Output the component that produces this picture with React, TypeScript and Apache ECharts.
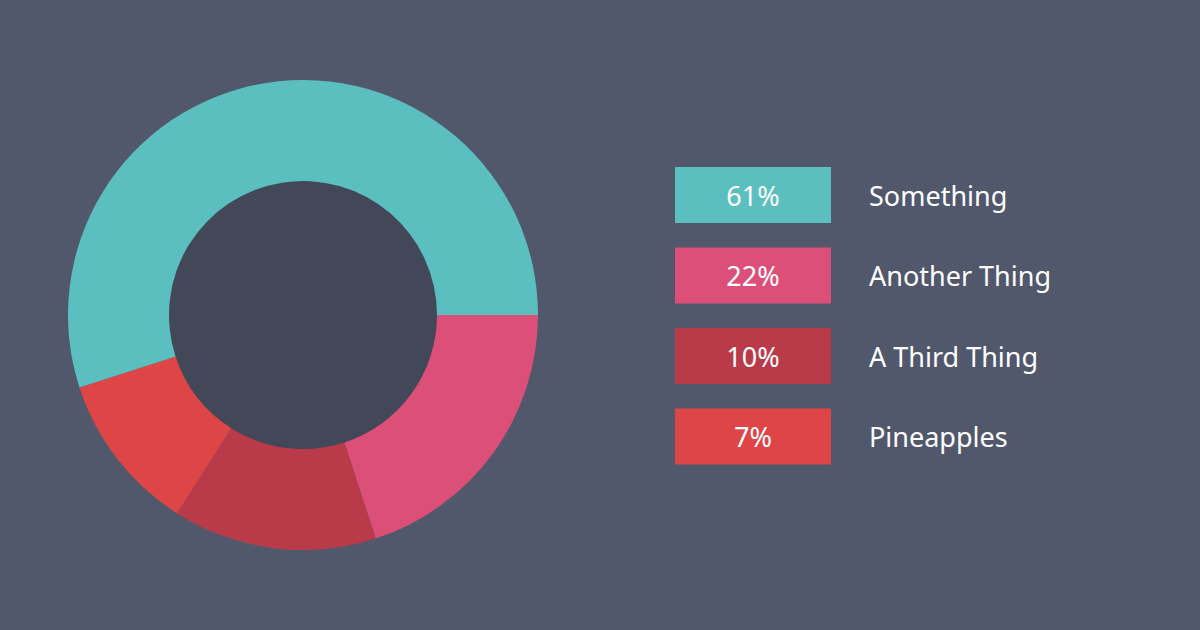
import React, { useEffect, useRef } from "react";
import * as echarts from "echarts";

const categories = ["Something", "Another Thing", "A Third Thing", "Pineapples"];
const sliceValues = [55, 20, 14, 11];
const legendLabels = ["61%", "22%", "10%", "7%"];
const colors = ["#5bbfc0", "#dc4f79", "#b93b4a", "#dd4547"];

const BG = "#52586c";
const HOLE = "#434859";

export default function App() {
  const ref = useRef<HTMLDivElement>(null);
  useEffect(() => {
    document.body.style.margin = "0";
    const chart = echarts.init(ref.current!, null, { renderer: "svg" });
    // clockwise from 3 o'clock: Another, Third, Pineapples, then Something
    const order = [1, 2, 3, 0];
    const data = order.map((i) => ({
      name: categories[i],
      value: sliceValues[i],
      itemStyle: { color: colors[i] },
    }));
    const graphics: any[] = [
      {
        type: "circle",
        shape: { cx: 303, cy: 315, r: 135 },
        style: { fill: HOLE },
        z: 0,
      },
    ];
    categories.forEach((c, i) => {
      const y = 167 + i * 80.5;
      graphics.push({
        type: "rect",
        shape: { x: 675, y, width: 156, height: 56 },
        style: { fill: colors[i] },
      });
      graphics.push({
        type: "text",
        x: 753,
        y: y + 28,
        style: {
          text: legendLabels[i],
          fill: "#ffffff",
          font: '27px "Noto Sans"',
          align: "center",
          verticalAlign: "middle",
        },
      });
      graphics.push({
        type: "text",
        x: 869,
        y: y + 28,
        style: {
          text: c,
          fill: "#ffffff",
          font: '27px "Noto Sans"',
          align: "left",
          verticalAlign: "middle",
        },
      });
    });
    chart.setOption({
      animation: false,
      backgroundColor: BG,
      graphic: graphics,
      series: [
        {
          type: "pie",
          center: [303, 315],
          radius: [134, 235],
          startAngle: 0,
          clockwise: true,
          label: { show: false },
          labelLine: { show: false },
          emphasis: { disabled: true },
          itemStyle: { borderWidth: 0 },
          data,
        },
      ],
    });
    return () => chart.dispose();
  }, []);
  return (
    <div
      ref={ref}
      style={{ position: "absolute", left: 0, top: 0, width: 1200, height: 630 }}
    />
  );
}
